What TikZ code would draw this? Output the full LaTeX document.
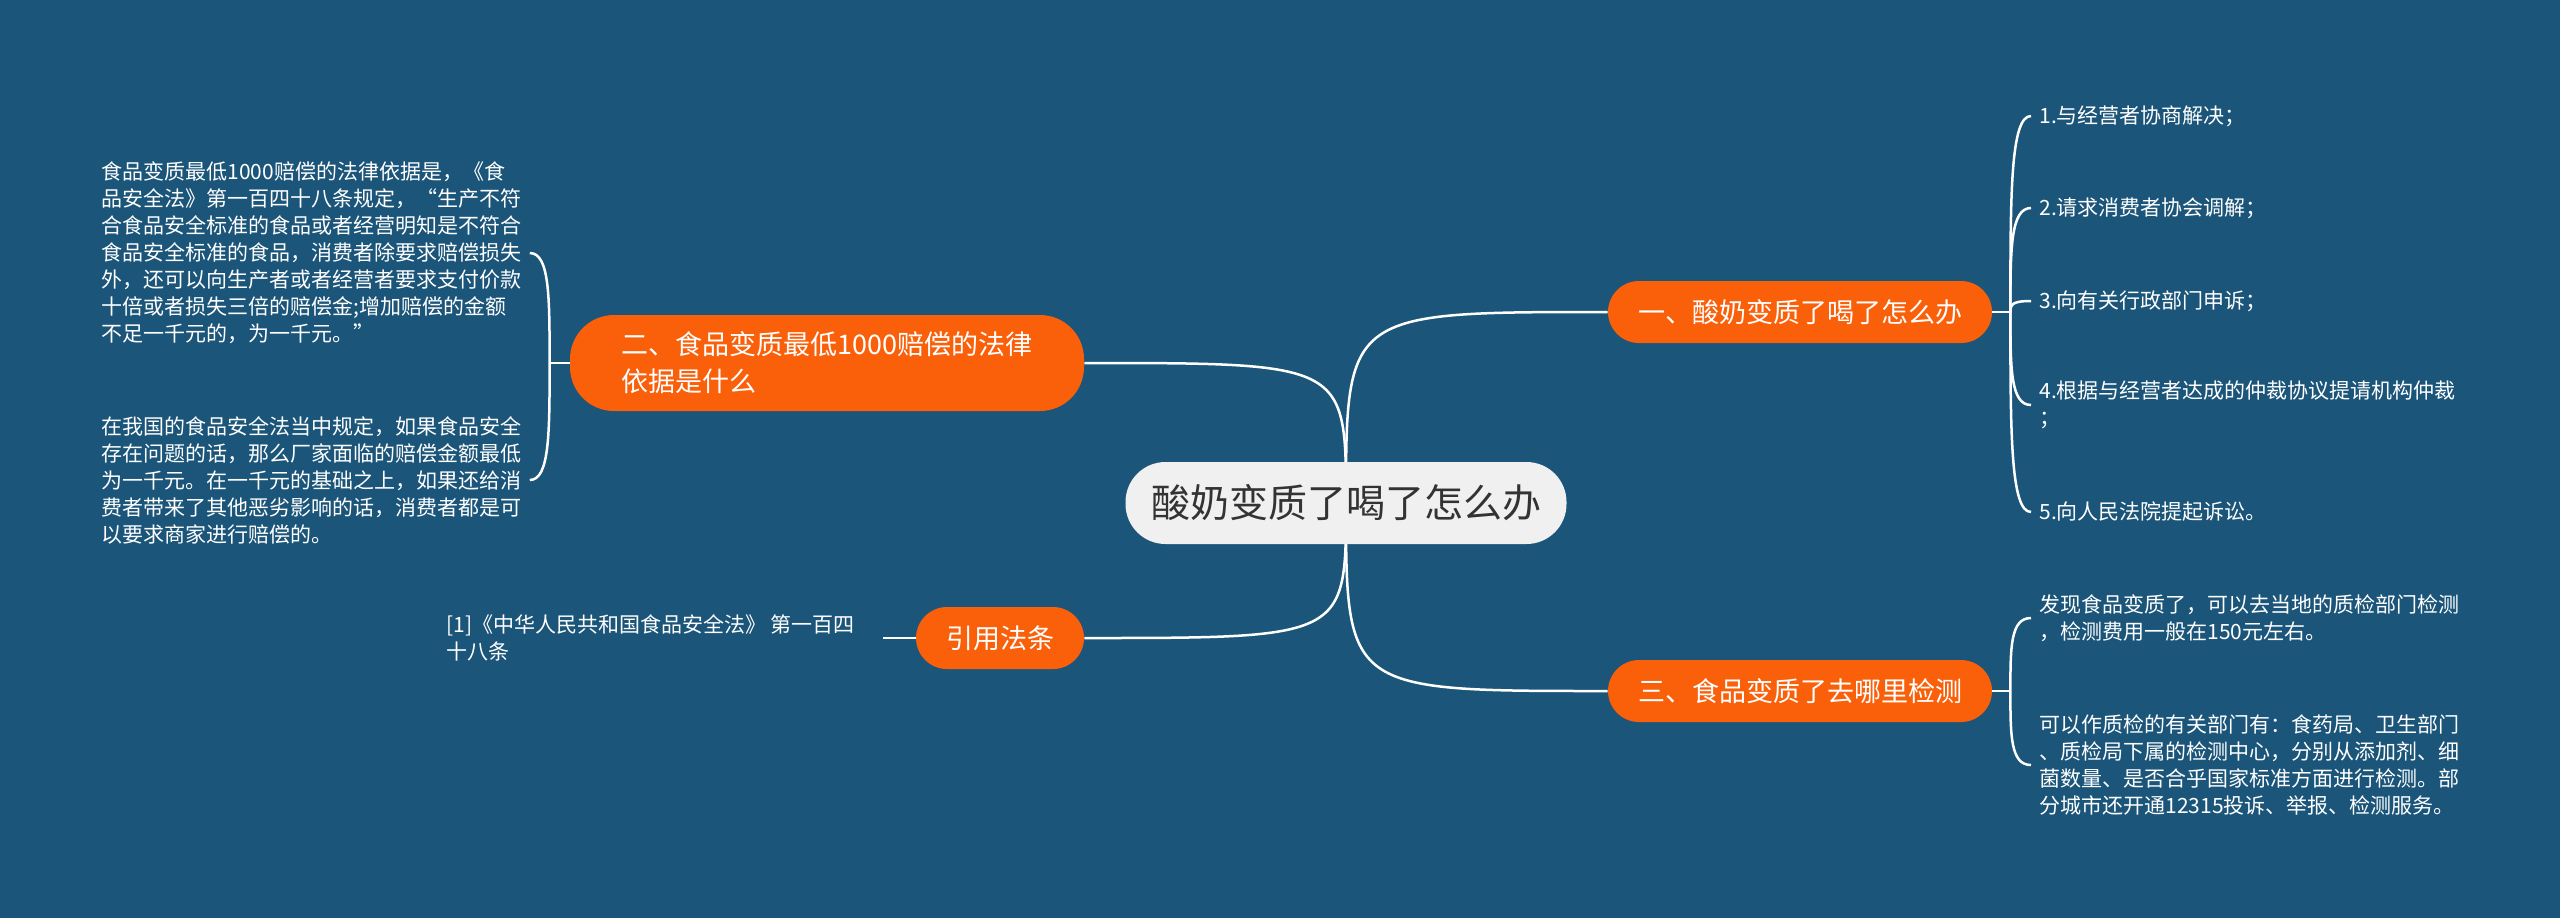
\documentclass[tikz,border=0pt]{standalone}
\usepackage{fontspec}
\newfontfamily\cjk{Noto Sans CJK SC}
\usetikzlibrary{calc,backgrounds}
\definecolor{bgblue}{RGB}{27,85,121}
\definecolor{orng}{RGB}{250,96,10}
\definecolor{rootfill}{RGB}{240,240,240}
\definecolor{roottext}{RGB}{51,51,51}
\begin{document}
\begin{tikzpicture}[x=0.5pt,y=-0.5pt,
  conn/.style={draw=white,line width=1.25pt},
  rootbox/.style={fill=rootfill,text=roottext,rounded corners=20pt,minimum width=220.5pt,minimum height=41pt,inner sep=0pt,font=\cjk\fontsize{19.5pt}{24pt}\selectfont},
  branch/.style={fill=orng,text=white,rounded corners=15.5pt,minimum height=31pt,inner sep=0pt,font=\cjk\fontsize{13.5pt}{18.5pt}\selectfont},
  leaf/.style={text=white,anchor=west,inner xsep=4pt,inner ysep=2pt,align=left,font=\cjk\fontsize{10.5pt}{13.5pt}\selectfont}
]
\begin{scope}[on background layer]
\fill[bgblue] (0,0) rectangle (2560,918);
\end{scope}
\useasboundingbox (0,0) rectangle (2560,918);

% main nodes
\node[rootbox] (root) at (1346,503) {酸奶变质了喝了怎么办};
\node[branch,minimum width=192pt] (n1) at (1800,312) {一、酸奶变质了喝了怎么办};
\node[branch,minimum width=192pt] (n3) at (1800,691) {三、食品变质了去哪里检测};
\node[branch,minimum width=257pt,minimum height=48pt,rounded corners=22pt,align=left] (n2) at (827,363) {二、食品变质最低1000赔偿的法律\\依据是什么};
\node[branch,minimum width=84pt] (n4) at (1000,638) {引用法条};

% right leaves of n1
\node[leaf] (a1) at (2031,116) {1.与经营者协商解决；};
\node[leaf] (a2) at (2031,208) {2.请求消费者协会调解；};
\node[leaf] (a3) at (2031,301) {3.向有关行政部门申诉；};
\node[leaf] (a4) at (2031,405) {4.根据与经营者达成的仲裁协议提请机构仲裁\\；};
\node[leaf] (a5) at (2031,512) {5.向人民法院提起诉讼。};

% right leaves of n3
\node[leaf] (b1) at (2031,618) {发现食品变质了，可以去当地的质检部门检测\\，检测费用一般在150元左右。};
\node[leaf] (b2) at (2031,765) {可以作质检的有关部门有：食药局、卫生部门\\、质检局下属的检测中心，分别从添加剂、细\\菌数量、是否合乎国家标准方面进行检测。部\\分城市还开通12315投诉、举报、检测服务。};

% left leaves of n2
\node[leaf] (c1) at (93,253) {食品变质最低1000赔偿的法律依据是，《食\\品安全法》第一百四十八条规定，“生产不符\\合食品安全标准的食品或者经营明知是不符合\\食品安全标准的食品，消费者除要求赔偿损失\\外，还可以向生产者或者经营者要求支付价款\\十倍或者损失三倍的赔偿金;增加赔偿的金额\\不足一千元的，为一千元。”};
\node[leaf] (c2) at (93,480) {在我国的食品安全法当中规定，如果食品安全\\存在问题的话，那么厂家面临的赔偿金额最低\\为一千元。在一千元的基础之上，如果还给消\\费者带来了其他恶劣影响的话，消费者都是可\\以要求商家进行赔偿的。};

% citation leaf
\node[leaf] (d1) at (438,638) {[1]《中华人民共和国食品安全法》 第一百四\\十八条};

\coordinate (j1) at ($(n1.east)+(18,0)$);
\coordinate (j3) at ($(n3.east)+(18,0)$);
\coordinate (j2) at ($(n2.west)+(-20,0)$);

\begin{scope}[on background layer]
% root to branches
\draw[conn] (root.center) .. controls (root.center |- n1.west) .. (n1.west);
\draw[conn] (root.center) .. controls (root.center |- n3.west) .. (n3.west);
\draw[conn] (root.center) .. controls (root.center |- n2.east) .. (n2.east);
\draw[conn] (root.center) .. controls (root.center |- n4.east) .. (n4.east);
% n1 bracket
\draw[conn] (n1.east) -- (j1);
\foreach \l in {a1,a2,a3,a4,a5}
  \draw[conn] (j1) .. controls ($(j1)!0.6!(j1 |- \l.west)$) and (j1 |- \l.west) .. (\l.west);
% n3 bracket
\draw[conn] (n3.east) -- (j3);
\foreach \l in {b1,b2}
  \draw[conn] (j3) .. controls ($(j3)!0.6!(j3 |- \l.west)$) and (j3 |- \l.west) .. (\l.west);
% n2 bracket
\draw[conn] (n2.west) -- (j2);
\foreach \l in {c1,c2}
  \draw[conn] (j2) .. controls ($(j2)!0.6!(j2 |- \l.east)$) and (j2 |- \l.east) .. (\l.east);
% citation
\draw[conn,shorten >=10pt] (n4.west) -- (d1.east);
\end{scope}
\end{tikzpicture}
\end{document}
